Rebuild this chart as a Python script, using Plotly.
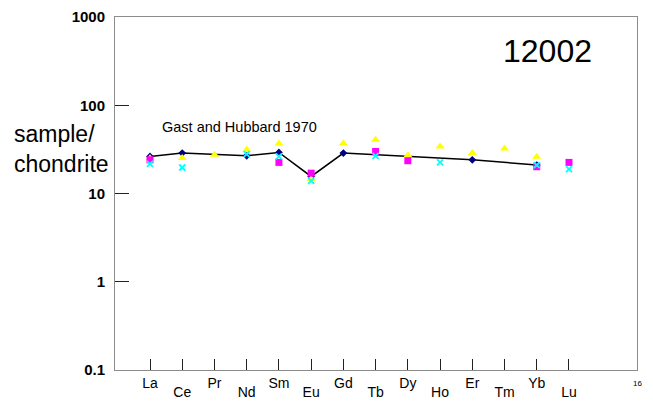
import plotly.graph_objects as go

elements = ["La", "Ce", "Pr", "Nd", "Sm", "Eu", "Gd", "Tb", "Dy", "Ho", "Er", "Tm", "Yb", "Lu"]
positions = list(range(1, 15))

gast_hubbard = [26.3, 28.7, None, 26.7, 29.2, 15.6, 28.7, None, None, None, 24.1, None, 21.0, None]
yellow_tri = [25.1, 25.2, 27.5, 31.3, 36.9, 14.6, 37.2, 40.6, 27.2, 34.1, 28.7, 32.4, 26.1, None]
magenta_sq = [24.1, None, None, None, 22.5, 17.0, None, 29.9, 23.5, None, None, None, 20.1, 22.5]
cyan_x = [21.7, 19.7, None, 27.9, 26.3, 13.9, None, 26.7, None, 22.5, None, None, 21.0, 18.9]

y_ticks = [0.1, 1, 10, 100, 1000]
y_tick_text = ["0.1", "1", "10", "100", "1000"]

upper_text = [e if i % 2 == 0 else "" for i, e in enumerate(elements)]
lower_text = [e if i % 2 == 1 else "" for i, e in enumerate(elements)]

FONT = "Liberation Sans, Arial, sans-serif"

fig = go.Figure()

gx = [p for p, v in zip(positions, gast_hubbard) if v is not None]
gy = [v for v in gast_hubbard if v is not None]
fig.add_trace(go.Scatter(x=gx, y=gy, mode="lines+markers",
                         line=dict(color="black", width=1.5),
                         marker=dict(symbol="diamond", color="#000080", size=6),
                         showlegend=False, hoverinfo="skip"))
fig.add_trace(go.Scatter(x=positions, y=yellow_tri, mode="markers",
                         marker=dict(symbol="triangle-up", color="#FFFF00", size=8),
                         showlegend=False))
fig.add_trace(go.Scatter(x=positions, y=magenta_sq, mode="markers",
                         marker=dict(symbol="square", color="#FF00FF", size=7),
                         showlegend=False))
fig.add_trace(go.Scatter(x=positions, y=cyan_x, mode="markers",
                         marker=dict(symbol="x-thin", size=6,
                                     line=dict(color="#00FFFF", width=1.8)),
                         showlegend=False))
fig.add_trace(go.Scatter(x=positions, y=[None] * len(positions), xaxis="x2", yaxis="y",
                         mode="markers", showlegend=False, hoverinfo="skip"))

xrange = [-0.086, 16.11]

# page body has an 8px margin: size/margins chosen so the plot lands where the reference has it
fig.update_layout(
    width=645, height=394,
    margin=dict(l=107, r=16, t=9, b=32, autoexpand=False),
    paper_bgcolor="white", plot_bgcolor="white",
    font=dict(family=FONT, color="black"),
    xaxis=dict(range=xrange, tickvals=positions, ticktext=upper_text,
               ticks="inside", ticklen=11, tickwidth=1, tickcolor="#222",
               showline=True, linecolor="#8c8c8c", linewidth=1, mirror=True,
               showgrid=False, zeroline=False, automargin=False,
               tickfont=dict(family=FONT, size=14, color="black"),
               ticklabelstandoff=0),
    xaxis2=dict(range=xrange, overlaying="x", anchor="y", side="bottom",
                tickvals=positions, ticktext=lower_text, ticks="",
                showline=False, showgrid=False, zeroline=False, automargin=False,
                tickfont=dict(family=FONT, size=14, color="black"),
                ticklabelstandoff=12),
    yaxis=dict(type="log", range=[-1, 3], tickvals=y_ticks, ticktext=y_tick_text,
               ticks="inside", ticklen=14, tickwidth=1, tickcolor="#222",
               showline=True, linecolor="#8c8c8c", linewidth=1, mirror=True,
               showgrid=False, zeroline=False, automargin=False,
               tickfont=dict(family=FONT, size=15, color="black", weight="bold"),
               ticklabelstandoff=6),
)

fig.add_annotation(text="sample/<br>chondrite", xref="paper", yref="paper",
                   x=-0.1973, y=0.626, xanchor="left", yanchor="middle",
                   align="left", showarrow=False,
                   font=dict(family=FONT, size=23, color="black"))
fig.add_annotation(text="Gast and Hubbard 1970", xref="paper", yref="paper",
                   x=0.0862, y=0.687, xanchor="left", yanchor="middle",
                   showarrow=False, font=dict(family=FONT, size=14.5, color="black"))
fig.add_annotation(text="12002", xref="paper", yref="paper",
                   x=0.8276, y=0.9037, xanchor="center", yanchor="middle",
                   showarrow=False, font=dict(family=FONT, size=32, color="black"))
fig.add_annotation(text="16", xref="paper", yref="paper",
                   x=1.0, y=-0.037, xanchor="center", yanchor="middle",
                   showarrow=False, font=dict(family=FONT, size=8, color="black"))

fig.write_html("out.html")
